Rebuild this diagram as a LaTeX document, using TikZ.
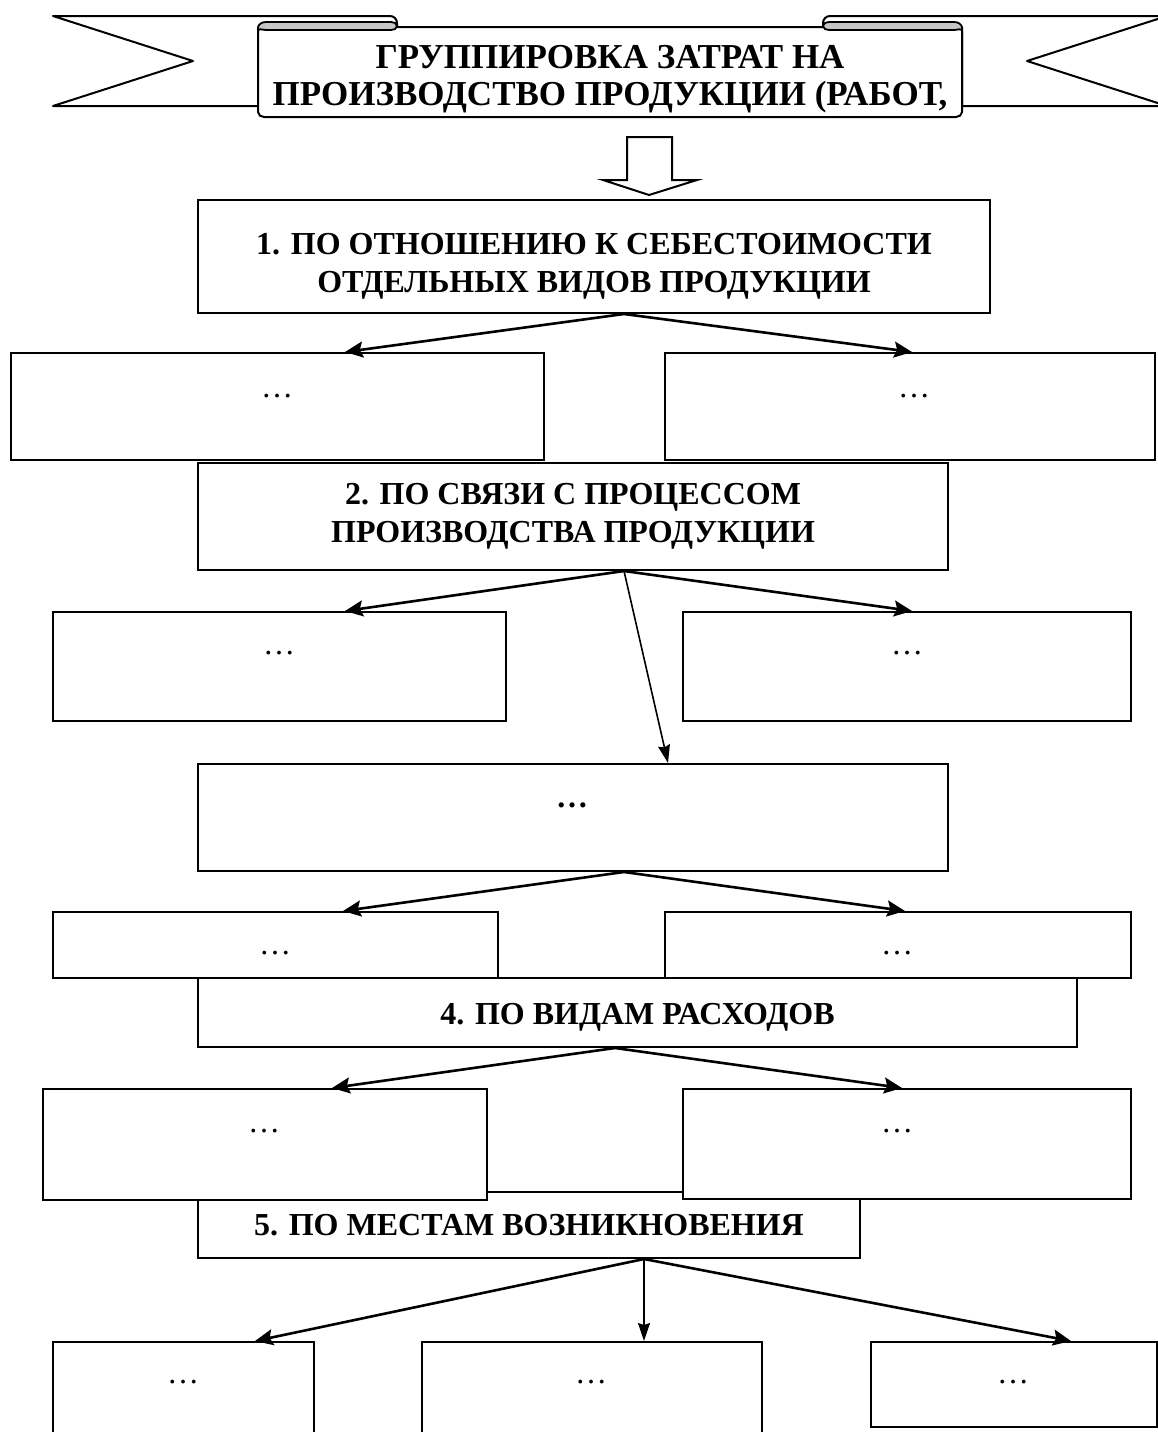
\documentclass[tikz,border=0pt]{standalone}
\usepackage{fontspec}
\setmainfont{Liberation Serif}
\usetikzlibrary{arrows.meta}
\begin{document}
\begin{tikzpicture}[x=1pt,y=-1pt,
  box/.style={draw, line width=2pt, fill=white, inner sep=0pt},
  title/.style={box, align=center, font=\fontsize{32}{38}\selectfont\bfseries},
  dots/.style={inner sep=0pt, anchor=base, font=\fontsize{32}{38}\selectfont},
  ribbon/.style={draw, line width=2pt, fill=white, line join=round},
  curl/.style={draw, line width=1.8pt, fill=gray!45},
  arr/.style={line width=2.6pt, -{Stealth[length=18pt,width=16pt,inset=3pt]}},
  thinarr/.style={line width=1.6pt, -{Stealth[length=18pt,width=12pt,inset=2pt]}}]
\clip (0,0) rectangle (1158,1432);
\fill[white] (0,0) rectangle (1158,1432);
% banner tails
\draw[ribbon] (53,16) -- (390,16) to[out=0,in=90] (397,23) -- (397,31) -- (258,31) -- (258,106) -- (53,106) -- (193,61) -- cycle;
\draw[ribbon] (1167,16) -- (830,16) to[out=180,in=90] (823,23) -- (823,31) -- (962,31) -- (962,106) -- (1167,106) -- (1027,61) -- cycle;
% main ribbon
\draw[ribbon] (258,27) -- (258,112) to[out=-90,in=180] (264,117) -- (956,117) to[out=0,in=-90] (962,112) -- (962,27) -- cycle;
\draw[curl] (258,28) to[out=90,in=180] (266,22) -- (391,22) to[out=0,in=90] (397,26) to[out=-90,in=0] (391,30) -- (266,30) to[out=180,in=90] (258,31) -- cycle;
\draw[curl] (962,28) to[out=90,in=0] (954,22) -- (829,22) to[out=180,in=90] (823,26) to[out=-90,in=180] (829,30) -- (954,30) to[out=0,in=90] (962,31) -- cycle;
\node[align=center, inner sep=0pt, font=\fontsize{35}{37}\selectfont\bfseries] (banner) at (610,79) {ГРУППИРОВКА ЗАТРАТ НА\\ПРОИЗВОДСТВО ПРОДУКЦИИ (РАБОТ,};
% block arrow
\draw[line width=2pt, fill=white, line join=miter] (627,137) -- (672,137) -- (672,180) -- (697,180) -- (649,195) -- (603,180) -- (627,180) -- cycle;
% level 1
\node[title, minimum width=792pt, minimum height=113pt] (b1) at (594,256.5) {\rule{0pt}{40pt}1. ПО ОТНОШЕНИЮ К СЕБЕСТОИМОСТИ\\ОТДЕЛЬНЫХ ВИДОВ ПРОДУКЦИИ};
\node[box, minimum width=533pt, minimum height=107pt] (a1) at (277.5,406.5) {};
\node[box, minimum width=490pt, minimum height=107pt] (a2) at (910,406.5) {};
\node[dots] (a1t) at (277,397) {…};
\node[dots] (a2t) at (914,397) {…};
\draw[arr] ([xshift=30pt]b1.south) -- ([xshift=67.5pt]a1.north);
\draw[arr] ([xshift=30pt]b1.south) -- ([xshift=2pt]a2.north);
% level 2
\node[title, minimum width=750pt, minimum height=107pt] (b2) at (573,516.5) {2. ПО СВЯЗИ С ПРОЦЕССОМ\\ПРОИЗВОДСТВА ПРОДУКЦИИ};
\node[box, minimum width=453pt, minimum height=109pt] (c1) at (279.5,666.5) {};
\node[box, minimum width=448pt, minimum height=109pt] (c2) at (907,666.5) {};
\node[dots] (c1t) at (279,654) {…};
\node[dots] (c2t) at (907,654) {…};
\node[box, minimum width=750pt, minimum height=107pt] (b3) at (573,817.5) {};
\node[dots, font=\fontsize{32}{38}\selectfont\bfseries] (b3t) at (572,807) {…};
\draw[arr] ([xshift=51pt]b2.south) -- ([xshift=65.5pt]c1.north);
\draw[arr] ([xshift=51pt]b2.south) -- ([xshift=5pt]c2.north);
\draw[thinarr] ([xshift=51pt]b2.south) -- ([xshift=95pt]b3.north);
% level 3
\node[box, minimum width=445pt, minimum height=66pt] (d1) at (275.5,945) {};
\node[box, minimum width=466pt, minimum height=66pt] (d2) at (898,945) {};
\node[dots] (d1t) at (275,954) {…};
\node[dots] (d2t) at (897,954) {…};
\draw[arr] ([xshift=51pt]b3.south) -- ([xshift=67.5pt]d1.north);
\draw[arr] ([xshift=51pt]b3.south) -- ([xshift=7pt]d2.north);
% level 4
\node[title, minimum width=879pt, minimum height=69pt] (b4) at (637.5,1012.5) {\rule{0pt}{30pt}4. ПО ВИДАМ РАСХОДОВ};
\node[title, minimum width=662pt, minimum height=66pt] (b5) at (529,1225) {5. ПО МЕСТАМ ВОЗНИКНОВЕНИЯ};
\node[box, minimum width=444pt, minimum height=111pt] (e1) at (265,1144.5) {};
\node[box, minimum width=448pt, minimum height=110pt] (e2) at (907,1144) {};
\node[dots] (e1t) at (264,1132) {…};
\node[dots] (e2t) at (897,1132) {…};
\draw[arr] ([xshift=-22.5pt]b4.south) -- ([xshift=67pt]e1.north);
\draw[arr] ([xshift=-22.5pt]b4.south) -- ([xshift=-5pt]e2.north);
% level 5
\node[box, minimum width=261pt, minimum height=98pt] (f1) at (183.5,1391) {};
\node[box, minimum width=340pt, minimum height=98pt] (f2) at (592,1391) {};
\node[box, minimum width=286pt, minimum height=85pt] (f3) at (1014,1384.5) {};
\node[dots] (f1t) at (183,1383) {…};
\node[dots] (f2t) at (591,1383) {…};
\node[dots] (f3t) at (1013,1383) {…};
\draw[arr] ([xshift=115pt]b5.south) -- ([xshift=71.5pt]f1.north);
\draw[thinarr] ([xshift=115pt]b5.south) -- ([xshift=52pt]f2.north);
\draw[arr] ([xshift=115pt]b5.south) -- ([xshift=57pt]f3.north);
\end{tikzpicture}
\end{document}
